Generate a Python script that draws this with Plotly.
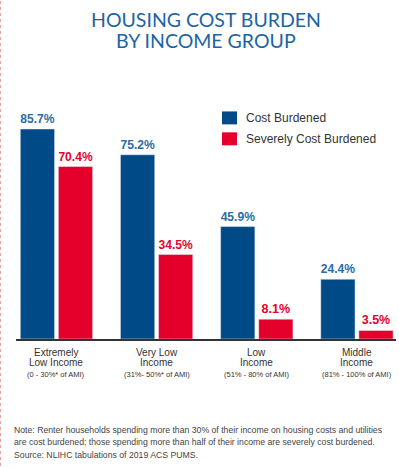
import plotly.graph_objects as go

line1 = ["Extremely", "Very Low", "Low", "Middle"]
line2 = ["Low Income", "Income", "Income", "Income"]
ranges = ["(0 - 30%* of AMI)", "(31%- 50%* of AMI)", "(51% - 80% of AMI)", "(81% - 100% of AMI)"]
cost_burdened = [85.7, 75.2, 45.9, 24.4]
severely_burdened = [70.4, 34.5, 8.1, 3.5]
series_names = ["Cost Burdened", "Severely Cost Burdened"]

blue = "#004B87"
red = "#E4002B"
sans = "Liberation Sans, Arial, sans-serif"
xs = list(range(len(line1)))

# plot area in pixels: left 16, right 396, top 93.5, bottom 339.5
L, R, T, B = 16, 396, 93.5, 339.5
W, H = R - L, B - T


def px(x):
    return (x - L) / W


def py(y):
    return (B - y) / H


fig = go.Figure()
fig.add_trace(go.Bar(
    x=xs, y=cost_burdened, name=series_names[0], marker_color=blue,
    text=[f"{v}%" for v in cost_burdened], textposition="outside",
    textfont=dict(family=sans, size=12.5, color="#2A6CA8", weight="bold"),
    cliponaxis=False,
))
fig.add_trace(go.Bar(
    x=xs, y=severely_burdened, name=series_names[1], marker_color=red,
    text=[f"{v}%" for v in severely_burdened], textposition="outside",
    textfont=dict(family=sans, size=12.5, color=red, weight="bold"),
    cliponaxis=False,
))

# category labels under the axis
for i in xs:
    for txt, ypix, size in [(line1[i], 352.5, 10), (line2[i], 363, 10), (ranges[i], 375, 7.5)]:
        fig.add_annotation(x=i, y=0, xref="x", yref="paper", yanchor="middle",
                           yshift=-(ypix - B), text=txt, showarrow=False,
                           font=dict(family=sans, size=size, color="#333333"))

# legend
for k, (name, col) in enumerate(zip(series_names, [blue, red])):
    top = 111 + 21 * k
    fig.add_shape(type="rect", xref="paper", yref="paper",
                  x0=px(222), x1=px(237), y0=py(top + 13), y1=py(top),
                  fillcolor=col, line_width=0)
    fig.add_annotation(x=px(244), y=py(top + 6.5), xref="paper", yref="paper",
                       xanchor="left", yanchor="middle", text=name, showarrow=False,
                       font=dict(family=sans, size=12, color="#333333"))

# title
for txt, ypix in [("HOUSING COST BURDEN", 19), ("BY INCOME GROUP", 40)]:
    fig.add_annotation(x=px(206.5), y=py(ypix), xref="paper", yref="paper",
                       xanchor="center", yanchor="middle", text=txt, showarrow=False,
                       font=dict(family="Lato, sans-serif", size=19.5, color="#1C64A3"))

# note
notes = ["Note: Renter households spending more than 30% of their income on housing costs and utilities",
         "are cost burdened; those spending more than half of their income are severely cost burdened.",
         "Source: NLIHC tabulations of 2019 ACS PUMS."]
for j, txt in enumerate(notes):
    fig.add_annotation(x=px(12), y=py(430.5 + 12.5 * j), xref="paper", yref="paper",
                       xanchor="left", yanchor="middle", text=txt, showarrow=False,
                       font=dict(family=sans, size=8.7, color="#444444"))

# dotted page edge at left
fig.add_shape(type="line", xref="paper", yref="paper", x0=px(0.5), x1=px(0.5),
              y0=py(467), y1=py(0), line=dict(color="#E8A0A0", width=1, dash="dot"))

fig.update_layout(
    width=399, height=467,
    margin=dict(l=L, r=399 - R, t=T, b=467 - B),
    paper_bgcolor="white", plot_bgcolor="white",
    barmode="group", bargap=0.24, bargroupgap=0.1,
    showlegend=False,
    xaxis=dict(range=[-0.404, 3.39], showticklabels=False, showgrid=False, zeroline=False,
               showline=True, linecolor="#333333", linewidth=1.5),
    yaxis=dict(range=[0, 100], visible=False),
)

fig.write_html("out.html", config={"displayModeBar": False},
               post_script="document.body.style.margin='0';")
